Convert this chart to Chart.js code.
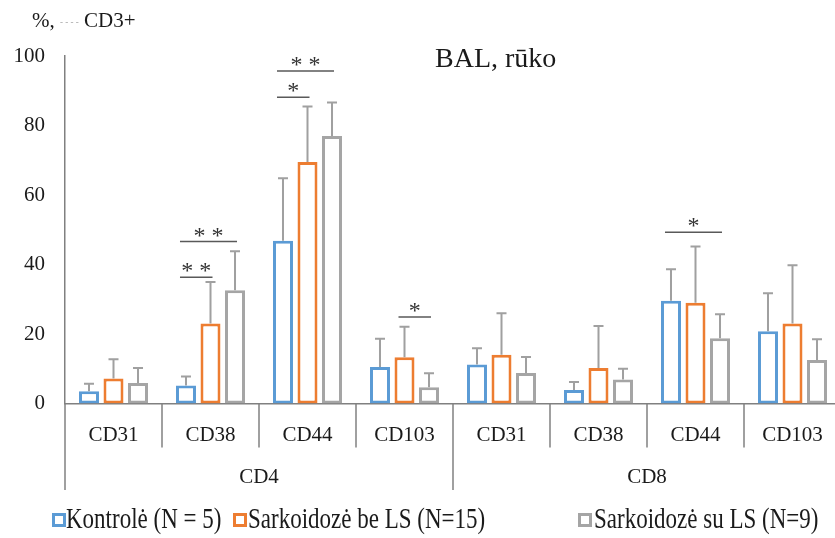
<!DOCTYPE html>
<html><head><meta charset="utf-8">
<script src="https://cdn.jsdelivr.net/npm/chart.js@4.4.0/dist/chart.umd.min.js"></script>
<style>
html,body{margin:0;padding:0;background:#fff;overflow:hidden}
#wrap{position:relative;width:835px;height:538px;overflow:hidden;font-family:"Liberation Serif","Times New Roman",serif;color:#1a1a1a}
#c{position:absolute;left:0;top:0}
.t{position:absolute;white-space:nowrap;line-height:1}
.lt{transform:scaleY(1.3);transform-origin:0 0}
.box{position:absolute;width:8px;height:8px;border:3px solid;background:#fff}
</style></head><body>
<div id="wrap">
<canvas id="c" width="850" height="538" style="width:850px;height:538px"></canvas>
<div class="t" style="left:32px;top:10px;font-size:21px">%, <span style="font-size:9px;color:#999;vertical-align:middle">- - - -</span> CD3+</div>
<div class="t" style="left:435px;top:44px;font-size:28px">BAL, rūko</div>
<div id="legend"></div>
</div>
<script>
const categories = ['CD31','CD38','CD44','CD103','CD31','CD38','CD44','CD103'];
const groups = ['CD4','CD8'];
const seriesNames = ['Kontrolė (N = 5)','Sarkoidozė be LS (N=15)','Sarkoidozė su LS (N=9)'];
const kontrole   = [3.5, 5.2, 46.8, 10.5, 11.2, 3.9, 29.6, 20.8];
const kontroleSD = [2.2, 2.6, 18.0, 8.1, 4.7, 2.3, 9.0, 10.9];
const beLS       = [7.2, 23.0, 69.5, 13.3, 14.0, 10.2, 29.0, 23.0];
const beLSSD     = [5.5, 12.0, 16.0, 8.8, 12.0, 12.1, 16.2, 16.8];
const suLS       = [5.9, 32.6, 77.0, 4.7, 8.8, 6.9, 18.8, 12.5];
const suLSSD     = [4.3, 11.2, 9.6, 4.0, 4.6, 3.1, 6.9, 6.0];
const yTicks = [0, 20, 40, 60, 80, 100];
const significance = [
  {cat:1, from:0, to:1, level:36.3, label:'**'},
  {cat:1, from:0, to:2, level:46.6, label:'**'},
  {cat:2, from:0, to:1, level:88.1, label:'*'},
  {cat:2, from:0, to:2, level:95.7, label:'**'},
  {cat:3, from:1, to:2, level:24.9, label:'*'},
  {cat:6, from:0, to:2, level:49.3, label:'*'}
];
const colors = ['#5B9BD5','#ED7D31','#A5A5A5'];
const values = [kontrole, beLS, suLS];
const sds = [kontroleSD, beLSSD, suLSSD];

// HTML legend
const legendPos = [[52,66],[233,248],[578,594]];
const lg = document.getElementById('legend');
seriesNames.forEach((n,i)=>{
  const b = document.createElement('div'); b.className='box';
  b.style.left = legendPos[i][0]+'px'; b.style.top='513px'; b.style.borderColor = colors[i];
  lg.appendChild(b);
  const t = document.createElement('div'); t.className='t lt';
  t.style.left = legendPos[i][1]+'px'; t.style.top='503px'; t.style.fontSize='23px';
  t.textContent = n; lg.appendChild(t);
});

const FONT = '"Liberation Serif","Times New Roman",serif';

const decor = {
  id:'decor',
  afterDatasetsDraw(chart){
    const ctx = chart.ctx, ys = chart.scales.y, xs = chart.scales.x, x2 = chart.scales.x2;
    ctx.save();
    // error bars
    ctx.strokeStyle = '#a0a0a0'; ctx.lineWidth = 2;
    values.forEach((vals,i)=>{
      const meta = chart.getDatasetMeta(i);
      meta.data.forEach((el,j)=>{
        const yt = ys.getPixelForValue(vals[j]);
        const ye = ys.getPixelForValue(vals[j]+sds[i][j]);
        ctx.beginPath();
        ctx.moveTo(el.x, yt); ctx.lineTo(el.x, ye);
        ctx.moveTo(el.x-5, ye); ctx.lineTo(el.x+5, ye);
        ctx.stroke();
      });
    });
    // significance
    ctx.strokeStyle = '#595959'; ctx.lineWidth = 1.5;
    ctx.fillStyle = '#333'; ctx.font = '24px '+FONT; ctx.textAlign='center'; ctx.textBaseline='alphabetic';
    significance.forEach(s=>{
      const xa = chart.getDatasetMeta(s.from).data[s.cat].x - 6;
      const xb = chart.getDatasetMeta(s.to).data[s.cat].x + 2;
      const y = ys.getPixelForValue(s.level);
      ctx.beginPath(); ctx.moveTo(xa,y); ctx.lineTo(xb,y); ctx.stroke();
      ctx.fillText(s.label.split('').join(' '), (xa+xb)/2, y + 1);
    });
    // category separators
    ctx.strokeStyle = '#808080'; ctx.lineWidth = 1.5;
    const step = xs.getPixelForValue(1) - xs.getPixelForValue(0);
    for(let i=0;i<=categories.length;i++){
      const px = xs.getPixelForValue(0) - step/2 + i*step;
      const long = (i % (categories.length/groups.length)) === 0;
      ctx.beginPath();
      ctx.moveTo(px, xs.top);
      ctx.lineTo(px, long ? x2.bottom : xs.top + 44);
      ctx.stroke();
    }
    ctx.restore();
  }
};

new Chart(document.getElementById('c'), {
  type:'bar',
  data:{
    labels: categories,
    datasets: values.map((v,i)=>({
      label: seriesNames[i], data: v,
      backgroundColor:'#ffffff', borderColor: colors[i], borderWidth:3, borderSkipped:false,
      categoryPercentage:0.758, barPercentage:0.816, xAxisID:'x'
    }))
  },
  options:{
    responsive:false, devicePixelRatio:1, animation:false,
    layout:{padding:{top:56,right:9,left:0,bottom:48}},
    plugins:{legend:{display:false}, title:{display:false}, tooltip:{enabled:false}},
    scales:{
      x:{ type:'category', position:'bottom', weight:1, offset:true,
        grid:{display:false, drawTicks:false},
        border:{display:true, color:'#808080', width:1.5},
        ticks:{font:{family:FONT,size:21}, color:'#1a1a1a', padding:19, maxRotation:0, autoSkip:false},
        afterFit(s){ s.height = 55; }
      },
      x2:{ type:'category', position:'bottom', weight:2, offset:true, labels: groups,
        grid:{display:false, drawTicks:false}, border:{display:false},
        ticks:{font:{family:FONT,size:21}, color:'#1a1a1a', padding:6, maxRotation:0},
        afterFit(s){ s.height = 31.5; }
      },
      y:{ min:0, max:100,
        grid:{display:false, drawTicks:false},
        border:{display:true, color:'#808080', width:1.5},
        ticks:{stepSize:20, font:{family:FONT,size:21}, color:'#1a1a1a', padding:20,
          callback:(v)=> yTicks.includes(v) ? String(v) : ''},
        afterFit(s){ s.width = 65; }
      }
    }
  },
  plugins:[decor]
});
</script>
</body></html>
